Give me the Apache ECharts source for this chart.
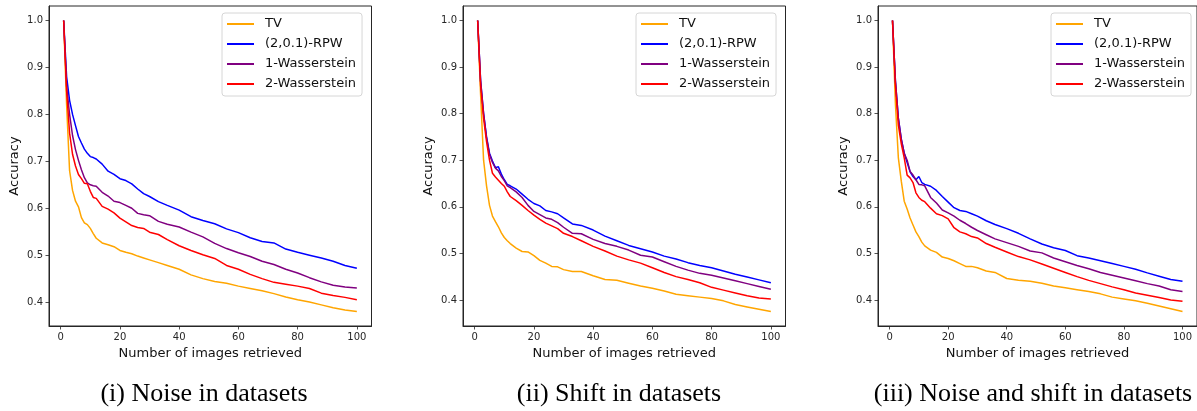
<!DOCTYPE html>
<html>
<head>
<meta charset="utf-8">
<script src="https://cdn.jsdelivr.net/npm/echarts@6/dist/echarts.min.js"></script>
<style>
html,body{margin:0;padding:0;background:#fff;}
#c{width:1197px;height:411px;}
</style>
</head>
<body>
<div id="c"></div>
<script>
// x positions (number of images retrieved) at which values were read
const X = [1,2,3,4,5,6,7,8,9,10,11,12,14,16,18,20,22,24,26,28,30,33,36,40,44,48,52,56,60,64,68,72,76,80,84,88,92,96,100];

const seriesNames = ['TV', '(2,0.1)-RPW', '1-Wasserstein', '2-Wasserstein'];
const captions = ['(i) Noise in datasets', '(ii) Shift in datasets', '(iii) Noise and shift in datasets'];
const xTicks = [0, 20, 40, 60, 80, 100];
const yTicks = [0.4, 0.5, 0.6, 0.7, 0.8, 0.9, 1.0];

// Panel (i) Noise in datasets
const p1_TV   = [1.0,0.82,0.68,0.638,0.615,0.603,0.580,0.569,0.565,0.557,0.546,0.536,0.526,0.522,0.518,0.510,0.506,0.503,0.498,0.494,0.490,0.484,0.478,0.470,0.458,0.450,0.444,0.440,0.434,0.429,0.424,0.418,0.411,0.405,0.400,0.394,0.388,0.383,0.380];
const p1_RPW  = [1.0,0.88,0.83,0.80,0.776,0.753,0.739,0.726,0.717,0.710,0.708,0.705,0.694,0.679,0.672,0.663,0.659,0.652,0.641,0.631,0.625,0.614,0.606,0.596,0.582,0.574,0.567,0.556,0.548,0.537,0.529,0.526,0.513,0.506,0.500,0.494,0.487,0.478,0.472];
const p1_W1   = [1.0,0.86,0.80,0.755,0.725,0.702,0.682,0.665,0.654,0.650,0.648,0.647,0.634,0.626,0.615,0.612,0.606,0.600,0.589,0.586,0.584,0.572,0.566,0.560,0.549,0.539,0.525,0.514,0.505,0.497,0.487,0.480,0.470,0.462,0.452,0.443,0.436,0.432,0.430];
const p1_W2   = [1.0,0.85,0.76,0.715,0.690,0.672,0.663,0.653,0.652,0.636,0.623,0.621,0.604,0.598,0.590,0.579,0.571,0.563,0.559,0.557,0.549,0.544,0.533,0.520,0.510,0.501,0.493,0.478,0.470,0.459,0.450,0.442,0.438,0.434,0.429,0.419,0.414,0.410,0.405];

// Panel (ii) Shift in datasets
const p2_TV   = [1.0,0.84,0.70,0.645,0.603,0.580,0.568,0.557,0.544,0.534,0.527,0.521,0.511,0.504,0.503,0.495,0.485,0.479,0.472,0.471,0.465,0.461,0.461,0.452,0.444,0.442,0.436,0.430,0.425,0.419,0.412,0.409,0.406,0.403,0.398,0.390,0.385,0.380,0.375];
const p2_RPW  = [1.0,0.87,0.80,0.75,0.715,0.698,0.684,0.686,0.670,0.658,0.648,0.645,0.638,0.627,0.616,0.607,0.602,0.592,0.589,0.585,0.576,0.563,0.560,0.550,0.537,0.527,0.517,0.510,0.503,0.494,0.488,0.480,0.474,0.469,0.462,0.455,0.449,0.443,0.437];
const p2_W1   = [1.0,0.87,0.80,0.748,0.712,0.695,0.683,0.677,0.665,0.656,0.645,0.641,0.632,0.620,0.603,0.590,0.583,0.576,0.573,0.566,0.556,0.543,0.542,0.530,0.521,0.515,0.507,0.496,0.492,0.482,0.472,0.464,0.457,0.453,0.447,0.441,0.435,0.429,0.423];
const p2_W2   = [1.0,0.86,0.79,0.74,0.70,0.672,0.664,0.657,0.650,0.644,0.632,0.622,0.613,0.603,0.592,0.582,0.573,0.565,0.559,0.553,0.543,0.536,0.527,0.515,0.505,0.494,0.486,0.479,0.469,0.459,0.450,0.444,0.437,0.427,0.421,0.415,0.409,0.404,0.402];

// Panel (iii) Noise and shift in datasets
const p3_TV   = [1.0,0.82,0.705,0.655,0.612,0.595,0.576,0.561,0.546,0.536,0.524,0.516,0.507,0.502,0.492,0.489,0.484,0.478,0.472,0.472,0.469,0.462,0.459,0.446,0.442,0.440,0.436,0.430,0.426,0.422,0.418,0.413,0.406,0.402,0.398,0.393,0.387,0.381,0.375];
const p3_RPW  = [1.0,0.87,0.79,0.745,0.715,0.695,0.675,0.665,0.658,0.665,0.652,0.648,0.644,0.635,0.622,0.610,0.598,0.592,0.590,0.585,0.580,0.570,0.562,0.553,0.543,0.531,0.520,0.512,0.506,0.495,0.490,0.484,0.478,0.472,0.466,0.458,0.451,0.444,0.440];
const p3_W1   = [1.0,0.87,0.79,0.745,0.715,0.700,0.676,0.668,0.658,0.648,0.647,0.645,0.620,0.608,0.593,0.587,0.580,0.571,0.564,0.556,0.549,0.540,0.531,0.523,0.515,0.505,0.501,0.490,0.482,0.474,0.467,0.459,0.453,0.447,0.441,0.435,0.430,0.422,0.418];
const p3_W2   = [1.0,0.86,0.775,0.735,0.705,0.668,0.662,0.652,0.630,0.620,0.614,0.611,0.597,0.585,0.581,0.574,0.555,0.546,0.542,0.536,0.533,0.521,0.513,0.503,0.493,0.486,0.477,0.468,0.459,0.450,0.442,0.435,0.428,0.422,0.415,0.410,0.405,0.400,0.397];

const panels = [
  [p1_TV, p1_RPW, p1_W1, p1_W2],
  [p2_TV, p2_RPW, p2_W1, p2_W2],
  [p3_TV, p3_RPW, p3_W1, p3_W2]
];
const colors = ['#FFA500', '#0000FF', '#800080', '#FF0000'];

// layout
const gridLeft = [49, 463, 878];
const gridW = 322.5;
const gridTop = 6, gridH = 320;
const yMin = [0.349, 0.344, 0.344];
const legendLeft = [222, 636, 1051];
const captionX = [204, 619, 1033];

const FONT = 'DejaVu Sans';
const grids = [], xAxes = [], yAxes = [], series = [], legends = [], graphics = [];
for (let p = 0; p < 3; p++) {
  grids.push({left: gridLeft[p], top: gridTop, width: gridW, height: gridH, show: true,
    borderColor: '#262626', borderWidth: 1, backgroundColor: 'transparent', containLabel: false});
  xAxes.push({type: 'value', gridIndex: p, min: -3.95, max: 104.95,
    name: 'Number of images retrieved', nameLocation: 'middle', nameGap: 20,
    nameTextStyle: {fontFamily: FONT, fontSize: 13, color: '#111'},
    axisLine: {show: true, onZero: false, lineStyle: {color: '#262626', width: 1}},
    axisTick: {show: true, length: 3.5, customValues: xTicks, lineStyle: {color: '#262626', width: 0.8}},
    axisLabel: {show: true, customValues: xTicks, margin: 6, fontFamily: FONT, fontSize: 10, color: '#262626',
      formatter: v => String(Math.round(v))},
    splitLine: {show: false}});
  yAxes.push({type: 'value', gridIndex: p, min: yMin[p], max: 1.031,
    name: 'Accuracy', nameLocation: 'middle', nameGap: 28, nameRotate: 90,
    nameTextStyle: {fontFamily: FONT, fontSize: 13, color: '#111'},
    axisLine: {show: true, onZero: false, lineStyle: {color: '#262626', width: 1}},
    axisTick: {show: true, length: 3.5, customValues: yTicks, lineStyle: {color: '#262626', width: 0.8}},
    axisLabel: {show: true, customValues: yTicks, margin: 6, fontFamily: FONT, fontSize: 10, color: '#262626',
      formatter: v => v.toFixed(1)},
    splitLine: {show: false}});
  for (let s = 0; s < 4; s++) {
    const vals = panels[p][s];
    series.push({type: 'line', name: seriesNames[s], xAxisIndex: p, yAxisIndex: p,
      data: X.map((x, i) => [x, vals[i]]), showSymbol: false, symbol: 'none', smooth: false,
      lineStyle: {color: colors[s], width: 1.5}, itemStyle: {color: colors[s]},
      animation: false, z: 2 + s});
  }
  legends.push({data: seriesNames, orient: 'vertical', left: legendLeft[p], top: 13,
    icon: 'rect', itemWidth: 27, itemHeight: 2, itemGap: 6,
    padding: [4, 6, 5, 5], backgroundColor: 'rgba(255,255,255,0.8)',
    borderColor: '#d6d6d6', borderWidth: 1, borderRadius: 3,
    selectedMode: false,
    textStyle: {fontFamily: FONT, fontSize: 13, color: '#111', lineHeight: 14, padding: [0, 0, 0, 6]}});
  graphics.push({type: 'text', x: captionX[p], y: 394, silent: true,
    style: {text: captions[p], fontFamily: 'Liberation Serif', fontSize: 26, fill: '#000',
      textAlign: 'center', textVerticalAlign: 'middle', align: 'center', verticalAlign: 'middle'}});
}

const chart = echarts.init(document.getElementById('c'), null, {renderer: 'canvas'});
chart.setOption({
  animation: false,
  backgroundColor: '#fff',
  grid: grids, xAxis: xAxes, yAxis: yAxes, series: series, legend: legends,
  graphic: graphics
});
</script>
</body>
</html>
